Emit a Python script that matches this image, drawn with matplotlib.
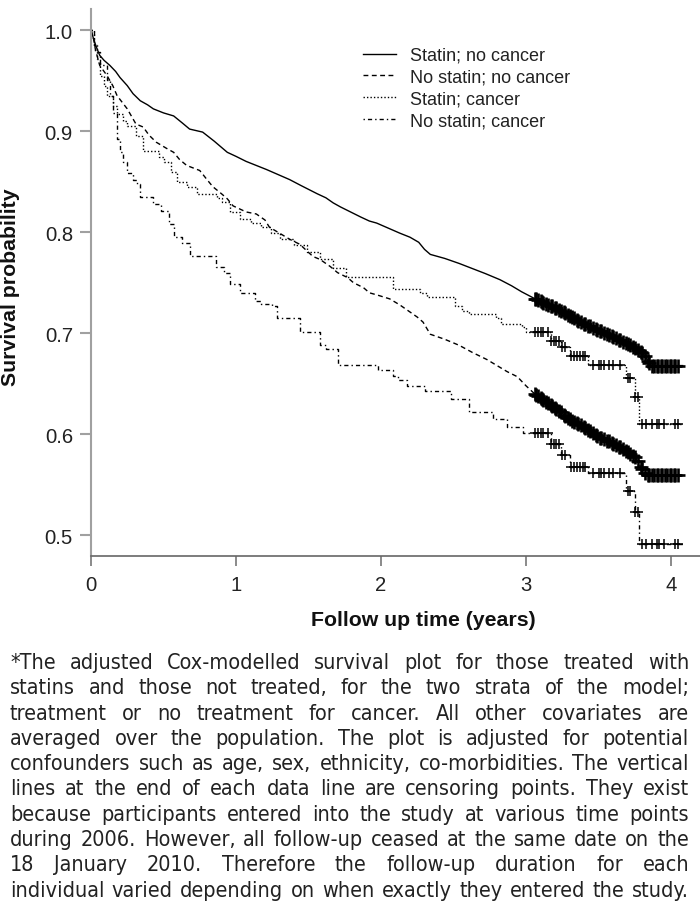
import numpy as np
import matplotlib
matplotlib.use("Agg")
import matplotlib.pyplot as plt
from matplotlib import font_manager
from matplotlib.font_manager import FontProperties
from matplotlib.lines import Line2D

# ---- data (years, survival probability) ----

labels = ["Statin; no cancer", "No statin; no cancer", "Statin; cancer", "No statin; cancer"]

t_statin_nocancer = [0, 0.02, 0.04, 0.06, 0.09, 0.13, 0.17, 0.20, 0.25, 0.29, 0.34, 0.39, 0.43, 0.50,
                     0.57, 0.63, 0.68, 0.77, 0.85, 0.94, 1.00, 1.07, 1.14, 1.21, 1.29, 1.37, 1.45, 1.56,
                     1.62, 1.67, 1.72, 1.79, 1.86, 1.92, 1.97, 2.05, 2.13, 2.20, 2.26, 2.30, 2.34, 2.44,
                     2.54, 2.63, 2.72, 2.82, 2.90, 2.97, 3.05, 3.12, 3.19, 3.27, 3.34, 3.42, 3.50, 3.58,
                     3.65, 3.72, 3.78, 3.81, 3.84, 3.86]
s_statin_nocancer = [1.000, 0.990, 0.982, 0.975, 0.970, 0.965, 0.959, 0.953, 0.945, 0.937, 0.930, 0.926,
                     0.922, 0.918, 0.915, 0.908, 0.902, 0.899, 0.890, 0.879, 0.875, 0.870, 0.866, 0.862,
                     0.857, 0.852, 0.846, 0.838, 0.834, 0.829, 0.825, 0.820, 0.815, 0.811, 0.809, 0.804,
                     0.799, 0.795, 0.790, 0.783, 0.778, 0.774, 0.769, 0.764, 0.759, 0.753, 0.747, 0.741,
                     0.735, 0.730, 0.726, 0.720, 0.714, 0.708, 0.703, 0.698, 0.693, 0.688, 0.683, 0.679,
                     0.673, 0.668]

t_nostatin_nocancer = [0, 0.02, 0.03, 0.06, 0.11, 0.15, 0.18, 0.25, 0.31, 0.36, 0.40, 0.45, 0.52, 0.57,
                       0.61, 0.66, 0.75, 0.80, 0.84, 0.90, 0.94, 0.98, 1.07, 1.14, 1.20, 1.23, 1.30, 1.37,
                       1.44, 1.53, 1.58, 1.65, 1.70, 1.77, 1.81, 1.88, 1.92, 1.97, 2.06, 2.13, 2.20, 2.25,
                       2.29, 2.34, 2.44, 2.54, 2.63, 2.73, 2.80, 2.87, 2.94, 3.00, 3.06, 3.14, 3.22, 3.30,
                       3.39, 3.49, 3.57, 3.65, 3.71, 3.76, 3.79, 3.83]
s_nostatin_nocancer = [1.000, 0.990, 0.981, 0.965, 0.955, 0.945, 0.935, 0.922, 0.907, 0.904, 0.896, 0.889,
                       0.883, 0.879, 0.872, 0.866, 0.861, 0.852, 0.845, 0.838, 0.833, 0.826, 0.820, 0.818,
                       0.812, 0.805, 0.799, 0.793, 0.788, 0.776, 0.773, 0.766, 0.760, 0.755, 0.750, 0.745,
                       0.740, 0.738, 0.734, 0.728, 0.721, 0.716, 0.711, 0.699, 0.694, 0.688, 0.681, 0.674,
                       0.668, 0.662, 0.657, 0.648, 0.640, 0.632, 0.624, 0.615, 0.608, 0.598, 0.593, 0.587,
                       0.582, 0.576, 0.568, 0.560]

t_statin_cancer = [0, 0.02, 0.04, 0.06, 0.09, 0.11, 0.15, 0.18, 0.22, 0.25, 0.31, 0.36, 0.47, 0.50, 0.55,
                   0.59, 0.66, 0.73, 0.87, 0.90, 0.96, 1.03, 1.10, 1.17, 1.24, 1.30, 1.40, 1.49, 1.58, 1.67,
                   1.76, 2.08, 2.27, 2.32, 2.51, 2.56, 2.61, 2.79, 2.83, 2.97, 3.00, 3.17, 3.24, 3.30, 3.43,
                   3.69, 3.75, 3.78]
s_statin_cancer = [1.000, 0.985, 0.971, 0.955, 0.945, 0.935, 0.925, 0.917, 0.910, 0.905, 0.895, 0.880,
                   0.874, 0.869, 0.860, 0.850, 0.845, 0.838, 0.834, 0.830, 0.820, 0.813, 0.809, 0.805,
                   0.799, 0.793, 0.787, 0.780, 0.773, 0.765, 0.756, 0.744, 0.740, 0.736, 0.727, 0.722,
                   0.719, 0.715, 0.709, 0.706, 0.701, 0.692, 0.686, 0.677, 0.669, 0.656, 0.637, 0.610]

t_nostatin_cancer = [0, 0.02, 0.03, 0.06, 0.11, 0.13, 0.15, 0.18, 0.20, 0.22, 0.25, 0.29, 0.32, 0.34, 0.43,
                     0.48, 0.54, 0.57, 0.63, 0.68, 0.86, 0.92, 0.96, 1.03, 1.13, 1.17, 1.25, 1.28, 1.44,
                     1.58, 1.62, 1.70, 1.98, 2.08, 2.12, 2.18, 2.30, 2.48, 2.61, 2.77, 2.87, 2.98, 3.17,
                     3.24, 3.30, 3.43, 3.69, 3.75, 3.78]
s_nostatin_cancer = [1.000, 0.985, 0.978, 0.965, 0.951, 0.935, 0.918, 0.892, 0.879, 0.869, 0.859, 0.852,
                     0.848, 0.835, 0.828, 0.821, 0.808, 0.795, 0.789, 0.776, 0.766, 0.760, 0.749, 0.740,
                     0.732, 0.729, 0.727, 0.715, 0.701, 0.688, 0.684, 0.669, 0.664, 0.658, 0.654, 0.648,
                     0.643, 0.635, 0.622, 0.615, 0.607, 0.601, 0.590, 0.580, 0.568, 0.562, 0.544, 0.523,
                     0.491]

t_end = 4.08

# censoring times (same within each stratum)
censor_nocancer = [3.06, 3.07, 3.08, 3.10, 3.11, 3.12, 3.14, 3.15, 3.17, 3.18, 3.20, 3.21, 3.23, 3.24,
                   3.26, 3.27, 3.29, 3.30, 3.32, 3.33, 3.35, 3.36, 3.38, 3.40, 3.41, 3.43, 3.44, 3.46,
                   3.48, 3.49, 3.51, 3.52, 3.54, 3.56, 3.57, 3.59, 3.60, 3.62, 3.64, 3.65, 3.67, 3.69,
                   3.70, 3.72, 3.74, 3.75, 3.77, 3.79, 3.80, 3.82, 3.84, 3.85, 3.87, 3.88, 3.90, 3.91,
                   3.93, 3.94, 3.96, 3.97, 3.99, 4.00, 4.02, 4.03, 4.05]
censor_cancer = [3.06, 3.08, 3.10, 3.12, 3.15, 3.17, 3.19, 3.21, 3.23, 3.25, 3.27, 3.31, 3.33, 3.35,
                 3.37, 3.39, 3.41, 3.46, 3.50, 3.52, 3.54, 3.57, 3.60, 3.65, 3.70, 3.72, 3.75, 3.77,
                 3.80, 3.83, 3.87, 3.90, 3.92, 3.95, 4.03, 4.05]

x_ticks = [0, 1, 2, 3, 4]
y_ticks = [0.5, 0.6, 0.7, 0.8, 0.9, 1.0]

caption_lines = [
    "*The adjusted Cox-modelled survival plot for those treated with",
    "statins and those not treated, for the two strata of the model;",
    "treatment or no treatment for cancer. All other covariates are",
    "averaged over the population. The plot is adjusted for potential",
    "confounders such as age, sex, ethnicity, co-morbidities. The vertical",
    "lines at the end of each data line are censoring points. They exist",
    "because participants entered into the study at various time points",
    "during 2006. However, all follow-up ceased at the same date on the",
    "18 January 2010. Therefore the follow-up duration for each",
    "individual varied depending on when exactly they entered the study.",
]

# ---- styling ----
plt.rcParams["font.family"] = ["Liberation Sans", "DejaVu Sans"]
W_PX, H_PX = 700, 912

# (times, survival, censor times, line style, stepped)
series = [
    (t_statin_nocancer, s_statin_nocancer, censor_nocancer, "-", False),
    (t_nostatin_nocancer, s_nostatin_nocancer, censor_nocancer, (0, (3.5, 2.5)), False),
    (t_statin_cancer, s_statin_cancer, censor_cancer, (0, (1.0, 1.5)), True),
    (t_nostatin_cancer, s_nostatin_cancer, censor_cancer, (0, (1.0, 2.2, 3.0, 2.2)), True),
]


def step_at(t, s, when):
    idx = np.searchsorted(np.asarray(t), np.asarray(when), side="right") - 1
    return np.asarray(s)[idx]


fig = plt.figure(figsize=(W_PX / 100, H_PX / 100), dpi=100)
ax = fig.add_axes([91 / W_PX, (H_PX - 557) / H_PX, 609 / W_PX, 547 / H_PX])

handles = []
for (t, s, cens, ls, stepped), lab in zip(series, labels):
    tt = np.append(t, t_end)
    ss = np.append(s, s[-1])
    if stepped:
        ax.step(tt, ss, where="post", color="black", lw=1.0, linestyle=ls)
        cs = step_at(t, s, cens)
        ms, mew = 7.5, 1.1
    else:
        # dense stratum: events are so close the curve reads as a continuous line
        ax.plot(tt, ss, color="black", lw=1.0, linestyle=ls)
        cs = np.interp(cens, tt, ss)
        ms, mew = 10, 1.9
    ax.plot(cens, cs, linestyle="none", marker="+", ms=ms, mew=mew, color="black")
    handles.append(Line2D([], [], color="black", lw=1.0, linestyle=ls, label=lab))

ax.set_xlim(0, 4.2)
ax.set_ylim(0.4796, 1.0208)
ax.set_xticks(x_ticks)
ax.set_yticks(y_ticks)
ax.set_xticklabels([str(v) for v in x_ticks])
ax.set_yticklabels([f"{v:.1f}" for v in y_ticks])

for side in ["top", "right"]:
    ax.spines[side].set_visible(False)
ax.spines["left"].set_color("#a0a0a0")
ax.spines["left"].set_linewidth(1.5)
ax.spines["bottom"].set_color("#666666")
ax.spines["bottom"].set_linewidth(1.2)
ax.tick_params(axis="y", direction="out", length=8, width=1.5, color="#a0a0a0",
               labelsize=14.6, labelcolor="#222222", pad=5.0)
ax.tick_params(axis="x", direction="out", length=7.5, width=1.2, color="#777777",
               labelsize=14.6, labelcolor="#222222", pad=6.5)

ax.legend(handles=handles, loc="upper left", bbox_to_anchor=(363 / W_PX, 1 - 48 / H_PX),
          bbox_transform=fig.transFigure, frameon=False, fontsize=13, handlelength=1.85,
          handletextpad=0.75, labelspacing=0.26, borderpad=0, borderaxespad=0,
          labelcolor="#222222")

fig.text(423 / W_PX, 1 - 621 / H_PX, "Follow up time (years)", ha="center", va="center",
         fontsize=15.3, fontweight="bold", color="#111111")
fig.text(11 / W_PX, 1 - 287 / H_PX, "Survival probability", ha="center", va="center",
         rotation=90, fontsize=15.3, fontweight="bold", color="#111111")

# ---- justified caption, in a narrow face when one is installed ----
cap_font = None
for f in font_manager.fontManager.ttflist:
    narrow = ("Narrow" in f.name or "Condensed" in f.name
              or f.stretch in ("condensed", "semi-condensed", "extra-condensed"))
    if narrow and f.style == "normal" and f.weight in (400, "normal", "regular", "book"):
        cap_font = f.fname
        break


def cap_props(size):
    if cap_font:
        return FontProperties(fname=cap_font, size=size)
    return FontProperties(family="Liberation Sans", size=size)


left_px, right_px = 10, 689
top_px, spacing_px = 663, 25.3

renderer = fig.canvas.get_renderer()
base = 14.0
natural = []
for line in caption_lines:
    tmp = fig.text(0, 0, line, fontproperties=cap_props(base))
    natural.append(tmp.get_window_extent(renderer).width)
    tmp.remove()
cap_size = min(base * (right_px - left_px) * 0.99 / max(natural), 16.5)

for i, line in enumerate(caption_lines):
    words = line.split()
    y = 1 - (top_px + i * spacing_px) / H_PX
    texts = [fig.text(0, y, w, fontproperties=cap_props(cap_size), ha="left",
                      va="center", color="#222222") for w in words]
    widths = [tx.get_window_extent(renderer).width for tx in texts]
    gap = (right_px - left_px - sum(widths)) / (len(words) - 1)
    x = left_px
    for tx, w in zip(texts, widths):
        tx.set_x(x / W_PX)
        x += w + gap

fig.savefig("out.png", dpi=100)
